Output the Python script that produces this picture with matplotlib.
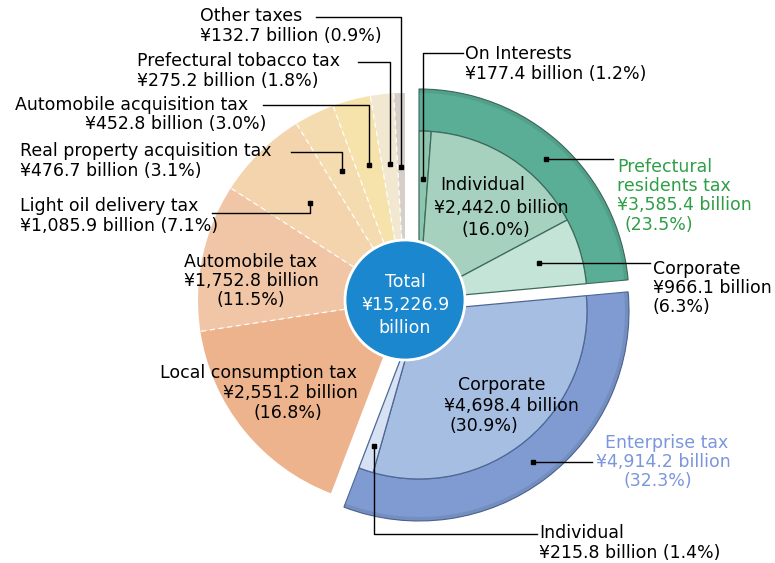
import matplotlib.pyplot as plt
import numpy as np
from matplotlib.patches import Wedge, Circle

# Prefectural tax revenue (billion yen), clockwise from 12 o'clock
main_labels = ['Prefectural residents tax', 'Enterprise tax', 'Local consumption tax',
               'Automobile tax', 'Light oil delivery tax', 'Real property acquisition tax',
               'Automobile acquisition tax', 'Prefectural tobacco tax', 'Other taxes']
main_values = [3585.4, 4914.2, 2551.2, 1752.8, 1085.9, 476.7, 452.8, 275.2, 132.7]
main_shares = [23.5, 32.3, 16.8, 11.5, 7.1, 3.1, 3.0, 1.8, 0.9]

pref_labels = ['On Interests', 'Individual', 'Corporate']
pref_values = [177.4, 2442.0, 966.1]
pref_shares = [1.2, 16.0, 6.3]

ent_labels = ['Corporate', 'Individual']
ent_values = [4698.4, 215.8]
ent_shares = [30.9, 1.4]

total = 15226.9

main_colors = [None, None, '#ecb38d', '#f1c6a6', '#f3d4ad', '#f4dbb0',
               '#f6e2ab', '#f2e7d1', '#d6cfc8']
pref_ring, pref_colors = '#5aae96', ['#8dc6ad', '#a5d1be', '#c4e4d7']
ent_ring, ent_colors = '#7f9bd1', ['#a7bee3', '#d6e2f4']

H = 563
fig = plt.figure(figsize=(7.75, 5.63), dpi=100)
ax = fig.add_axes([0, 0, 1, 1])
ax.set_xlim(0, 775)
ax.set_ylim(0, H)
ax.set_aspect('equal')
ax.axis('off')

# geometry (pixel layout)
c_main = np.array([405, H - 300])
c_pref = np.array([419, H - 299])
c_ent = np.array([419, H - 311])
R_main, R_grp = 207, 210
r_in = 0.8 * R_grp

# angles: clockwise from 90 deg
deg = np.array(main_values) / total * 360
ends = 90 - np.cumsum(deg)
starts = ends + deg
mid = (starts + ends) / 2


def pt(c, r, a):
    return c + r * np.array([np.cos(np.radians(a)), np.sin(np.radians(a))])


# plain sectors
for i in range(2, len(main_values)):
    ax.add_patch(Wedge(c_main, R_main, ends[i], starts[i], facecolor=main_colors[i],
                       edgecolor='none', zorder=1))
for i in range(3, len(main_values)):
    p = pt(c_main, R_main, starts[i])
    ax.plot([c_main[0], p[0]], [c_main[1], p[1]], color='white', lw=0.9,
            ls=(0, (4, 3)), zorder=2)


def group(c, a0, a1, subvals, colors, ring, edge):
    # outer ring plus inner sub-sectors
    ax.add_patch(Wedge(c, R_grp, a1, a0, width=R_grp - r_in, facecolor=ring,
                       edgecolor=edge, lw=0.8, zorder=3))
    ax.add_patch(Wedge(c, R_grp, a1, a0, width=4, facecolor='black', alpha=0.08,
                       edgecolor='none', zorder=3))
    sd = np.array(subvals) / total * 360
    se = a0 - np.cumsum(sd)
    ss = se + sd
    for j in range(len(subvals)):
        ax.add_patch(Wedge(c, r_in, se[j], ss[j], facecolor=colors[j],
                           edgecolor=edge, lw=0.9, zorder=3))
    return ss, se


ps, pe = group(c_pref, starts[0], ends[0], pref_values, pref_colors, pref_ring, '#3d6b5e')
es, ee = group(c_ent, starts[1], ends[1], ent_values, ent_colors, ent_ring, '#4e6795')

# centre circle
ax.add_patch(Circle(c_main, 60, facecolor='#1b87cf', edgecolor='white', lw=2, zorder=5))
for k, s in enumerate(['Total', f'¥{total:,.1f}', 'billion']):
    ax.text(c_main[0], H - 282 - 23 * k, s, color='white', fontsize=12.5,
            ha='center', va='center', zorder=6)

fs = 12.5
ls = 1.08


def money(v, s):
    return f'¥{v:,.1f} billion ({s:.1f}%)'


def dot(p):
    ax.plot(p[0], p[1], 's', color='black', ms=2.5, zorder=4)


def leader(x0, y0, p):
    ax.plot([x0, p[0], p[0]], [y0, y0, p[1]], color='black', lw=1, zorder=4)
    dot(p)


# small sectors at top-left with elbow leaders
ax.text(200, H - 26, f'{main_labels[8]}\n{money(main_values[8], main_shares[8])}',
        fontsize=fs, va='center', linespacing=ls)
leader(316, H - 17, pt(c_main, 133, mid[8]))
ax.text(137, H - 71, f'{main_labels[7]}\n{money(main_values[7], main_shares[7])}',
        fontsize=fs, va='center', linespacing=ls)
leader(358, H - 62, pt(c_main, 137, mid[7]))
ax.text(15, H - 105, main_labels[6], fontsize=fs, va='center')
ax.text(85, H - 124, money(main_values[6], main_shares[6]), fontsize=fs, va='center')
leader(263, H - 105, pt(c_main, 140, mid[6]))
ax.text(20, H - 161, f'{main_labels[5]}\n{money(main_values[5], main_shares[5])}',
        fontsize=fs, va='center', linespacing=ls)
leader(291, H - 152, pt(c_main, 143, mid[5]))
ax.text(20, H - 216, f'{main_labels[4]}\n{money(main_values[4], main_shares[4])}',
        fontsize=fs, va='center', linespacing=ls)
leader(212, H - 213, pt(c_main, 136, mid[4]))

ax.text(251, H - 281, f'{main_labels[3]}\n¥{main_values[3]:,.1f} billion\n({main_shares[3]:.1f}%)',
        fontsize=fs, ha='center', va='center', linespacing=ls, zorder=4)
ax.text(357, H - 373, main_labels[2], fontsize=fs, ha='right', va='center', zorder=4)
ax.text(358, H - 393, f'¥{main_values[2]:,.1f} billion', fontsize=fs, ha='right', va='center', zorder=4)
ax.text(288, H - 413, f'({main_shares[2]:.1f}%)', fontsize=fs, ha='center', va='center', zorder=4)

# prefectural residents tax
ax.text(483, H - 185, pref_labels[1], fontsize=fs, ha='center', va='center', zorder=4)
ax.text(501, H - 208, f'¥{pref_values[1]:,.1f} billion', fontsize=fs, ha='center', va='center', zorder=4)
ax.text(496, H - 230, f'({pref_shares[1]:.1f}%)', fontsize=fs, ha='center', va='center', zorder=4)

ax.text(465, H - 64, f'{pref_labels[0]}\n{money(pref_values[0], pref_shares[0])}',
        fontsize=fs, va='center', linespacing=ls)
leader(463, H - 53, pt(c_pref, 120, (ps[0] + pe[0]) / 2))

green = '#2f9e46'
ax.text(617, H - 186, f'Prefectural\nresidents tax\n¥{main_values[0]:,.1f} billion',
        fontsize=fs, va='center', color=green, linespacing=ls)
ax.text(624, H - 225, f'({main_shares[0]:.1f}%)', fontsize=fs, va='center', color=green)
d = pt(c_pref, 0.9 * R_grp, mid[0])
ax.plot([d[0], 613], [d[1], d[1]], color='black', lw=1, zorder=4)
dot(d)

ax.text(653, H - 288, f'{pref_labels[2]}\n¥{pref_values[2]:,.1f} billion\n({pref_shares[2]:.1f}%)',
        fontsize=fs, va='center', linespacing=ls)
d = pt(c_pref, 125, (ps[2] + pe[2]) / 2)
ax.plot([d[0], 650], [d[1], d[1]], color='black', lw=1, zorder=4)
dot(d)

# enterprise tax
ax.text(502, H - 385, ent_labels[0], fontsize=fs, ha='center', va='center', zorder=4)
ax.text(511, H - 406, f'¥{ent_values[0]:,.1f} billion', fontsize=fs, ha='center', va='center', zorder=4)
ax.text(484, H - 426, f'({ent_shares[0]:.1f}%)', fontsize=fs, ha='center', va='center', zorder=4)

blue = '#7b96db'
ax.text(667, H - 443, main_labels[1], fontsize=fs, ha='center', va='center', color=blue)
ax.text(663, H - 462, f'¥{main_values[1]:,.1f} billion', fontsize=fs, ha='center', va='center', color=blue)
ax.text(658, H - 481, f'({main_shares[1]:.1f}%)', fontsize=fs, ha='center', va='center', color=blue)
d = pt(c_ent, 0.9 * R_grp, mid[1])
ax.plot([d[0], 592], [d[1], d[1]], color='black', lw=1, zorder=4)
dot(d)

ax.text(539, H - 543, f'{ent_labels[1]}\n{money(ent_values[1], ent_shares[1])}',
        fontsize=fs, va='center', linespacing=ls)
d = pt(c_ent, 142, (es[1] + ee[1]) / 2)
ax.plot([d[0], d[0], 537], [d[1], H - 534, H - 534], color='black', lw=1, zorder=4)
dot(d)

plt.savefig('out.png', dpi=100)
